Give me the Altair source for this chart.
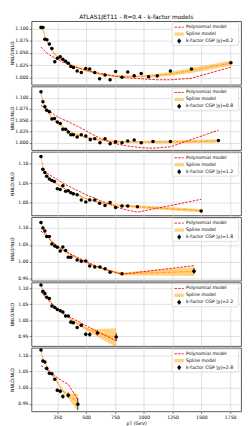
import altair as alt
import pandas as pd

TITLE = "ATLAS1JET11 - R=0.4 - k-factor models"
X_TITLE = "pT (GeV)"
Y_TITLE = "NNLO/NLO"
X_DOMAIN = [25, 1844]
X_TICKS = [250, 500, 750, 1000, 1250, 1500, 1750]

# ---------------- |y| = 0.2 ----------------
p1_label = "k-factor CGP |y|=0.2"
p1_x = [108, 125, 142, 160, 181, 203, 228, 251, 275, 298, 322, 345, 367, 390, 422, 458,
        497, 531, 575, 617, 664, 708, 756, 811, 861, 917, 978, 1042, 1117, 1231, 1414, 1756]
p1_y = [1.102, 1.102, 1.078, 1.077, 1.068, 1.059, 1.032, 1.039, 1.042, 1.037, 1.033, 1.029,
        1.022, 1.020, 1.013, 1.010, 1.018, 1.017, 1.010, 0.997, 1.005, 0.995, 1.012, 1.000,
        1.011, 1.003, 1.008, 1.001, 1.003, 1.013, 1.017, 1.030]
p1_err = [0.003, 0.003, 0.002, 0.002, 0.002, 0.002, 0.003, 0.002, 0.002, 0.002, 0.002, 0.002,
          0.002, 0.002, 0.002, 0.002, 0.002, 0.002, 0.002, 0.003, 0.002, 0.003, 0.003, 0.002,
          0.002, 0.002, 0.002, 0.002, 0.002, 0.002, 0.002, 0.002]
p1_poly = [1.062, 1.058, 1.054, 1.050, 1.046, 1.043, 1.040, 1.037, 1.034, 1.031, 1.029, 1.027,
           1.025, 1.023, 1.020, 1.018, 1.015, 1.013, 1.010, 1.008, 1.006, 1.004, 1.002, 1.000,
           0.999, 0.998, 0.997, 0.996, 0.995, 0.995, 0.998, 1.021]
p1_spl = [1.106, 1.097, 1.084, 1.074, 1.064, 1.055, 1.047, 1.042, 1.038, 1.035, 1.032, 1.029,
          1.026, 1.023, 1.020, 1.017, 1.014, 1.012, 1.009, 1.007, 1.005, 1.004, 1.003, 1.002,
          1.002, 1.002, 1.002, 1.003, 1.004, 1.007, 1.014, 1.029]
p1_splw = [0.003, 0.003, 0.002, 0.002, 0.002, 0.002, 0.002, 0.002, 0.002, 0.002, 0.002, 0.002,
           0.002, 0.002, 0.002, 0.002, 0.002, 0.002, 0.002, 0.002, 0.002, 0.002, 0.002, 0.002,
           0.002, 0.002, 0.002, 0.003, 0.003, 0.004, 0.005, 0.005]

# ---------------- |y| = 0.8 ----------------
p2_label = "k-factor CGP |y|=0.8"
p2_x = [108, 125, 142, 158, 181, 203, 225, 250, 275, 298, 322, 345, 367, 389, 422, 458,
        497, 536, 575, 620, 664, 708, 756, 811, 861, 917, 978, 1080, 1231, 1648]
p2_y = [1.113, 1.091, 1.080, 1.072, 1.069, 1.053, 1.054, 1.046, 1.043, 1.030, 1.030, 1.024,
        1.018, 1.018, 1.013, 1.018, 1.015, 1.007, 1.009, 1.000, 1.009, 0.998, 1.002, 1.000,
        1.004, 1.006, 1.000, 1.003, 1.003, 1.005]
p2_err = [0.003, 0.003, 0.002, 0.002, 0.002, 0.002, 0.002, 0.002, 0.002, 0.002, 0.002, 0.002,
          0.002, 0.002, 0.002, 0.002, 0.002, 0.002, 0.002, 0.002, 0.003, 0.003, 0.002, 0.002,
          0.002, 0.002, 0.002, 0.002, 0.002, 0.002]
p2_poly = [1.083, 1.080, 1.077, 1.074, 1.070, 1.066, 1.062, 1.058, 1.055, 1.052, 1.049, 1.047,
           1.044, 1.041, 1.037, 1.032, 1.027, 1.021, 1.016, 1.010, 1.006, 1.002, 0.998, 0.995,
           0.993, 0.991, 0.989, 0.988, 0.991, 1.028]
p2_spl = [1.111, 1.093, 1.081, 1.073, 1.064, 1.056, 1.050, 1.045, 1.040, 1.035, 1.031, 1.027,
          1.024, 1.021, 1.018, 1.015, 1.012, 1.010, 1.008, 1.006, 1.005, 1.004, 1.003, 1.003,
          1.002, 1.002, 1.002, 1.002, 1.002, 1.004]
p2_splw = [0.003, 0.003, 0.002, 0.002, 0.002, 0.002, 0.002, 0.002, 0.002, 0.002, 0.002, 0.002,
           0.002, 0.002, 0.002, 0.002, 0.002, 0.002, 0.002, 0.002, 0.002, 0.002, 0.002, 0.002,
           0.002, 0.002, 0.002, 0.003, 0.003, 0.004]

# ---------------- |y| = 1.2 ----------------
p3_label = "k-factor CGP |y|=1.2"
p3_x = [108, 125, 142, 158, 181, 203, 225, 250, 275, 298, 322, 345, 367, 389, 422, 458,
        497, 531, 575, 617, 664, 708, 756, 811, 861, 945, 1498]
p3_y = [1.119, 1.086, 1.078, 1.068, 1.061, 1.057, 1.055, 1.036, 1.034, 1.044, 1.030, 1.031,
        1.026, 1.023, 1.021, 1.007, 1.002, 1.007, 1.007, 0.999, 0.993, 1.001, 0.988, 0.992,
        0.992, 0.990, 0.979]
p3_err = [0.003, 0.003, 0.002, 0.002, 0.002, 0.002, 0.002, 0.003, 0.003, 0.002, 0.002, 0.002,
          0.002, 0.002, 0.002, 0.002, 0.002, 0.002, 0.002, 0.002, 0.002, 0.004, 0.002, 0.002,
          0.002, 0.002, 0.002]
p3_poly = [1.088, 1.084, 1.080, 1.077, 1.072, 1.068, 1.064, 1.060, 1.055, 1.051, 1.047, 1.043,
           1.040, 1.037, 1.032, 1.027, 1.021, 1.017, 1.012, 1.006, 1.001, 0.996, 0.990, 0.985,
           0.981, 0.976, 1.009]
p3_spl = [1.118, 1.090, 1.077, 1.069, 1.063, 1.058, 1.053, 1.048, 1.043, 1.039, 1.035, 1.031,
          1.028, 1.025, 1.021, 1.016, 1.011, 1.008, 1.004, 1.001, 0.998, 0.996, 0.994, 0.993,
          0.992, 0.990, 0.980]
p3_splw = [0.003, 0.003, 0.002, 0.002, 0.002, 0.002, 0.002, 0.002, 0.002, 0.002, 0.002, 0.002,
           0.002, 0.002, 0.002, 0.002, 0.002, 0.002, 0.002, 0.002, 0.002, 0.002, 0.002, 0.003,
           0.003, 0.004, 0.004]

# ---------------- |y| = 1.8 ----------------
p4_label = "k-factor CGP |y|=1.8"
p4_x = [108, 125, 142, 158, 181, 203, 228, 250, 275, 298, 322, 345, 367, 422, 458, 497,
        531, 575, 620, 664, 708, 811, 1436]
p4_y = [1.116, 1.100, 1.091, 1.075, 1.075, 1.053, 1.047, 1.043, 1.032, 1.044, 1.034, 1.014,
        1.014, 1.006, 1.002, 1.003, 0.988, 0.985, 0.985, 0.980, 0.970, 0.965, 0.973]
p4_err = [0.003, 0.003, 0.003, 0.002, 0.002, 0.003, 0.002, 0.002, 0.003, 0.003, 0.003, 0.002,
          0.002, 0.002, 0.002, 0.002, 0.003, 0.002, 0.003, 0.003, 0.004, 0.004, 0.009]
p4_poly = [1.091, 1.086, 1.081, 1.075, 1.067, 1.060, 1.053, 1.047, 1.041, 1.036, 1.031, 1.027,
           1.023, 1.014, 1.008, 1.002, 0.996, 0.990, 0.984, 0.979, 0.974, 0.964, 0.989]
p4_spl = [1.116, 1.100, 1.089, 1.080, 1.069, 1.060, 1.052, 1.046, 1.040, 1.035, 1.030, 1.025,
          1.021, 1.011, 1.005, 0.999, 0.994, 0.988, 0.983, 0.978, 0.973, 0.965, 0.972]
p4_splw = [0.003, 0.003, 0.002, 0.002, 0.002, 0.002, 0.002, 0.002, 0.002, 0.002, 0.002, 0.002,
           0.002, 0.002, 0.002, 0.002, 0.002, 0.002, 0.002, 0.003, 0.003, 0.004, 0.013]

# ---------------- |y| = 2.2 ----------------
p5_label = "k-factor CGP |y|=2.2"
p5_x = [108, 125, 142, 158, 181, 203, 228, 250, 275, 298, 322, 345, 367, 389, 422, 458,
        497, 531, 598, 761]
p5_y = [1.111, 1.091, 1.084, 1.072, 1.068, 1.045, 1.040, 1.034, 1.030, 1.026, 1.013, 1.013,
        0.994, 0.992, 0.977, 0.984, 0.956, 0.955, 0.960, 0.947]
p5_err = [0.003, 0.003, 0.003, 0.003, 0.003, 0.003, 0.003, 0.003, 0.003, 0.003, 0.004, 0.004,
          0.004, 0.004, 0.005, 0.005, 0.006, 0.007, 0.008, 0.012]
p5_poly = [1.089, 1.082, 1.075, 1.068, 1.059, 1.051, 1.042, 1.034, 1.027, 1.021, 1.016, 1.012,
           1.008, 1.004, 0.998, 0.991, 0.983, 0.977, 0.964, 0.935]
p5_spl = [1.111, 1.094, 1.082, 1.073, 1.062, 1.053, 1.044, 1.037, 1.030, 1.024, 1.017, 1.011,
          1.004, 0.998, 0.990, 0.982, 0.974, 0.968, 0.960, 0.945]
p5_splw = [0.003, 0.003, 0.002, 0.002, 0.002, 0.002, 0.002, 0.002, 0.002, 0.002, 0.003, 0.003,
           0.003, 0.003, 0.004, 0.004, 0.005, 0.007, 0.012, 0.030]

# ---------------- |y| = 2.8 ----------------
p6_label = "k-factor CGP |y|=2.8"
p6_x = [108, 125, 142, 158, 181, 203, 228, 250, 275, 298, 345, 428]
p6_y = [1.117, 1.083, 1.080, 1.060, 1.045, 1.043, 1.026, 0.992, 0.989, 0.973, 0.977, 0.949]
p6_err = [0.003, 0.004, 0.003, 0.003, 0.004, 0.004, 0.004, 0.005, 0.006, 0.007, 0.008, 0.018]
p6_poly = [1.069, 1.065, 1.060, 1.056, 1.050, 1.044, 1.037, 1.031, 1.025, 1.020, 1.010, 0.964]
p6_spl = [1.117, 1.090, 1.077, 1.065, 1.053, 1.042, 1.030, 1.018, 1.003, 0.990, 0.975, 0.955]
p6_splw = [0.003, 0.003, 0.003, 0.003, 0.003, 0.003, 0.003, 0.004, 0.004, 0.005, 0.008, 0.027]

PANELS = [
    (p1_label, p1_x, p1_y, p1_err, p1_poly, p1_spl, p1_splw, [0.985, 1.115],
     [1.000, 1.025, 1.050, 1.075, 1.100], ".3f"),
    (p2_label, p2_x, p2_y, p2_err, p2_poly, p2_spl, p2_splw, [0.984, 1.125],
     [1.000, 1.025, 1.050, 1.075, 1.100], ".3f"),
    (p3_label, p3_x, p3_y, p3_err, p3_poly, p3_spl, p3_splw, [0.968, 1.131],
     [1.00, 1.05, 1.10], ".2f"),
    (p4_label, p4_x, p4_y, p4_err, p4_poly, p4_spl, p4_splw, [0.945, 1.132],
     [0.95, 1.00, 1.05, 1.10], ".2f"),
    (p5_label, p5_x, p5_y, p5_err, p5_poly, p5_spl, p5_splw, [0.919, 1.119],
     [0.95, 1.00, 1.05, 1.10], ".2f"),
    (p6_label, p6_x, p6_y, p6_err, p6_poly, p6_spl, p6_splw, [0.927, 1.124],
     [0.95, 1.00, 1.05, 1.10], ".2f"),
]

FONT = "DejaVu Sans"
FS = 4.7
W = 215
H = 65.2
ORANGE = "#FFA500"

# legend geometry (pixels inside each panel)
LG_X0, LG_X1, LG_Y0, LG_Y1 = 144.3, 212.5, 1.5, 25.0
SYM_X0, SYM_X1 = 146.8, 156.3
TXT_X = 158.6
ROW_Y = [6.2, 13.3, 20.4]


def make_panel(spec, last):
    label, xs, ys, errs, poly, spl, splw, ydom, yticks, yfmt = spec
    df = pd.DataFrame({"pt": xs, "k": ys, "err": errs, "poly": poly, "spl": spl, "splw": splw})
    df["klo"] = df["k"] - df["err"]
    df["khi"] = df["k"] + df["err"]
    df["slo"] = df["spl"] - df["splw"]
    df["shi"] = df["spl"] + df["splw"]

    xscale = alt.Scale(domain=X_DOMAIN, nice=False, zero=False)
    yscale = alt.Scale(domain=ydom, nice=False, zero=False)
    if last:
        xaxis = alt.Axis(values=X_TICKS, title=X_TITLE, format="d", labelPadding=0.8,
                         titlePadding=2)
    else:
        xaxis = alt.Axis(values=X_TICKS, labels=False, ticks=False, title=None)
    yaxis = alt.Axis(values=yticks, format=yfmt, title=Y_TITLE, minExtent=17, maxExtent=17,
                     titlePadding=0.6)

    def X():
        return alt.X("pt:Q", scale=xscale, axis=xaxis)

    def Y(f):
        return alt.Y(f, type="quantitative", scale=yscale, axis=yaxis)

    base = alt.Chart(df)
    band = base.mark_area(color=ORANGE, opacity=0.5, clip=True).encode(
        x=X(), y=Y("slo"), y2="shi:Q")
    sline = base.mark_line(color="#FF8C00", strokeWidth=0.8, strokeDash=[3, 1, 1, 1],
                           clip=True).encode(x=X(), y=Y("spl"))
    pline = base.mark_line(color="red", strokeWidth=0.9, strokeDash=[2.6, 1.2],
                           clip=True).encode(x=X(), y=Y("poly"))
    ebar = base.mark_rule(color="black", strokeWidth=0.8, clip=True).encode(
        x=X(), y=Y("klo"), y2="khi:Q")
    pts = base.mark_circle(color="black", size=13, opacity=1, clip=True).encode(
        x=X(), y=Y("k"))

    one = alt.Data(values=[{"v": 0}])
    lbox = alt.Chart(one).mark_rect(fill="white", fillOpacity=0.8, stroke="#cccccc",
                                    strokeWidth=0.6, cornerRadius=1.5).encode(
        x=alt.value(LG_X0), x2=alt.value(LG_X1), y=alt.value(LG_Y0), y2=alt.value(LG_Y1))
    lpoly = alt.Chart(one).mark_rule(color="red", strokeWidth=0.9,
                                     strokeDash=[2.6, 1.2]).encode(
        x=alt.value(SYM_X0), x2=alt.value(SYM_X1), y=alt.value(ROW_Y[0]))
    lspl = alt.Chart(one).mark_rect(color=ORANGE, opacity=0.5).encode(
        x=alt.value(SYM_X0), x2=alt.value(SYM_X1), y=alt.value(ROW_Y[1] - 1.7),
        y2=alt.value(ROW_Y[1] + 1.7))
    lbar = alt.Chart(one).mark_rule(color="black", strokeWidth=0.8).encode(
        x=alt.value((SYM_X0 + SYM_X1) / 2), y=alt.value(ROW_Y[2] - 2.6),
        y2=alt.value(ROW_Y[2] + 2.6))
    lpt = alt.Chart(one).mark_circle(color="black", size=13, opacity=1).encode(
        x=alt.value((SYM_X0 + SYM_X1) / 2), y=alt.value(ROW_Y[2]))
    texts = []
    for txt, ry in zip(["Polynomial model", "Spline model", label], ROW_Y):
        texts.append(alt.Chart(one).mark_text(align="left", baseline="middle", font=FONT,
                                              fontSize=FS, color="black").encode(
            x=alt.value(TXT_X), y=alt.value(ry), text=alt.value(txt)))

    return alt.layer(band, sline, pline, ebar, pts, lbox, lpoly, lspl, lbar, lpt,
                     *texts).properties(width=W, height=H)


panels = [make_panel(s, i == len(PANELS) - 1) for i, s in enumerate(PANELS)]
panels[0] = panels[0].properties(
    title=alt.TitleParams(TITLE, font=FONT, fontSize=6, fontWeight="normal",
                          anchor="middle", frame="group", offset=1, color="black"))

chart = alt.vconcat(*panels, spacing=0).properties(padding=0).configure_view(
    stroke="#444444", strokeWidth=0.9
).configure_axis(
    labelFont=FONT, titleFont=FONT, labelFontSize=FS, titleFontSize=FS,
    titleFontWeight="normal", labelColor="black", titleColor="black",
    gridColor="#d3d3d3", gridWidth=0.7, domain=False, tickColor="#333333",
    tickSize=2.3, tickWidth=0.6, labelPadding=1.2
).configure_axisX(labelFlush=False)

chart.save("out.html", embed_options={"renderer": "svg", "actions": False})
